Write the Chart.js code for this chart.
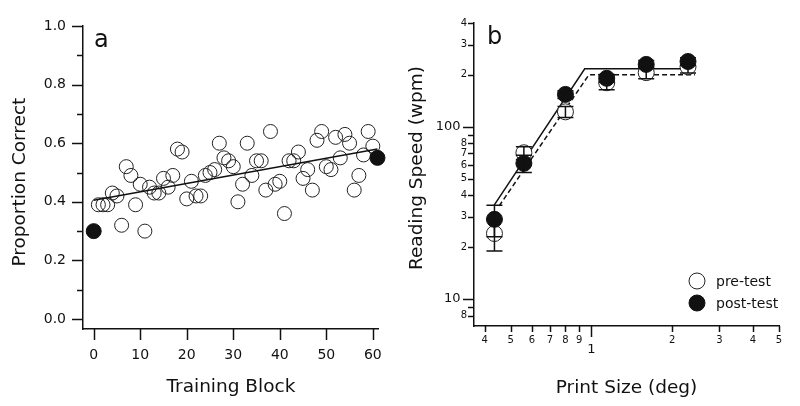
<!DOCTYPE html>
<html>
<head>
<meta charset="utf-8">
<script src="https://cdn.jsdelivr.net/npm/chart.js@4.4.0/dist/chart.umd.min.js"></script>
<style>
  html, body { margin: 0; padding: 0; background: #fff; }
  .wrap { display: flex; width: 800px; height: 406px; }
  .panel { width: 400px; height: 406px; }
  canvas { display: block; }
</style>
</head>
<body>
<div class="wrap">
  <div class="panel"><canvas id="chartA" width="400" height="406"></canvas></div>
  <div class="panel"><canvas id="chartB" width="400" height="406"></canvas></div>
</div>
<script>
// ============================================
//  two panels: training curve + reading speed
// ============================================

const FONT = "'DejaVu Sans', sans-serif";
const INK  = '#111';

// ── panel a data ─────────────────────────────
const blocks = [
   1,  2,  3,  4,  5,  6,  7,  8,  9, 10, 11, 12, 13, 14, 15, 16, 17, 18, 19, 20,
  21, 22, 23, 24, 25, 26, 27, 28, 29, 30, 31, 32, 33, 34, 35, 36, 37, 38, 39, 40,
  41, 42, 43, 44, 45, 46, 47, 48, 49, 50, 51, 52, 53, 54, 55, 56, 57, 58, 59, 60
];
const trainingScores = [
  0.39, 0.39, 0.39, 0.43, 0.42, 0.32, 0.52, 0.49, 0.39, 0.46,
  0.30, 0.45, 0.43, 0.43, 0.48, 0.45, 0.49, 0.58, 0.57, 0.41,
  0.47, 0.42, 0.42, 0.49, 0.50, 0.51, 0.60, 0.55, 0.54, 0.52,
  0.40, 0.46, 0.60, 0.49, 0.54, 0.54, 0.44, 0.64, 0.46, 0.47,
  0.36, 0.54, 0.54, 0.57, 0.48, 0.51, 0.44, 0.61, 0.64, 0.52,
  0.51, 0.62, 0.55, 0.63, 0.60, 0.44, 0.49, 0.56, 0.64, 0.59
];
const testBlocks = [0, 61];
const testScores = [0.30, 0.55];
const fitBlocks  = [0, 61];
const fitScores  = [0.405, 0.58];

const yTicksA  = [0, 0.1, 0.2, 0.3, 0.4, 0.5, 0.6, 0.7, 0.8, 0.9, 1.0];
const yLabelsA = ['0.0', '', '0.2', '', '0.4', '', '0.6', '', '0.8', '', '1.0'];
const xTicksA  = [0, 10, 20, 30, 40, 50, 60];
const xLabelsA = ['0', '10', '20', '30', '40', '50', '60'];

// ── panel b data ─────────────────────────────
const printSize = [0.435, 0.56, 0.80, 1.14, 1.60, 2.29];
const preSpeed  = [24, 70.6, 122, 180, 206, 223];
const preErr    = [5, 6, 9, 16, 16, 18];
const postSpeed = [29, 61.3, 154, 191, 230, 239];
const postErr   = [6, 7, 8, 10, 12, 12];

const preFitX  = [0.453, 0.978, 2.43];
const preFitY  = [34.7, 200, 200];
const postFitX = [0.434, 0.944, 2.43];
const postFitY = [35.1, 217, 217];

const yTicksB  = [8, 9, 10, 20, 30, 40, 50, 60, 70, 80, 90, 100, 200, 300, 400];
const yLabelsB = ['8', '', '10', '2', '3', '4', '5', '6', '7', '8', '', '100', '2', '3', '4'];
const yBigB    = [10, 100];
const xTicksB  = [0.4, 0.5, 0.6, 0.7, 0.8, 0.9, 1, 2, 3, 4, 5];
const xLabelsB = ['4', '5', '6', '7', '8', '9', '1', '2', '3', '4', '5'];
const xBigB    = [1];

// ── helpers ──────────────────────────────────
const pts = (xs, ys) => xs.map((x, i) => ({ x, y: ys[i] }));

function fixedTicks(values, isBig) {
  return scale => { scale.ticks = values.map((v, i) => ({ value: v, big: isBig(v, i) })); };
}

// tick marks of two lengths, drawn on the scales' own pixels
const tickMarks = {
  id: 'tickMarks',
  afterDraw(chart, args, opts) {
    const { ctx, chartArea } = chart;
    ctx.save();
    ctx.strokeStyle = INK;
    ctx.lineWidth = 1.5;
    for (const scale of Object.values(chart.scales)) {
      for (const t of scale.ticks) {
        const p = Math.round(scale.getPixelForValue(t.value)) + 0.5;
        const len = t.big ? opts.long : opts.short;
        ctx.beginPath();
        if (scale.isHorizontal()) {
          ctx.moveTo(p, chartArea.bottom);
          ctx.lineTo(p, chartArea.bottom + len);
        } else {
          ctx.moveTo(chartArea.left, p);
          ctx.lineTo(chartArea.left - len, p);
        }
        ctx.stroke();
      }
    }
    ctx.restore();
  }
};

const panelLetter = {
  id: 'panelLetter',
  afterDraw(chart, args, opts) {
    const { ctx } = chart;
    ctx.save();
    ctx.fillStyle = INK;
    ctx.font = `${opts.size}px ${FONT}`;
    ctx.textBaseline = 'alphabetic';
    ctx.fillText(opts.text, opts.x, opts.y);
    ctx.restore();
  }
};

const errorBars = {
  id: 'errorBars',
  afterDatasetDraw(chart, args) {
    const ds = chart.data.datasets[args.index];
    if (!ds.errors) return;
    const { ctx, scales: { x, y } } = chart;
    ctx.save();
    ctx.strokeStyle = INK;
    ctx.lineWidth = 1.5;
    ds.data.forEach((d, i) => {
      const px = x.getPixelForValue(d.x);
      const hi = y.getPixelForValue(d.y + ds.errors[i]);
      const lo = y.getPixelForValue(d.y - ds.errors[i]);
      ctx.beginPath();
      ctx.moveTo(px, hi);     ctx.lineTo(px, lo);
      ctx.moveTo(px - 8, hi); ctx.lineTo(px + 8, hi);
      ctx.moveTo(px - 8, lo); ctx.lineTo(px + 8, lo);
      ctx.stroke();
    });
    ctx.restore();
  }
};

// legend inside the plot, entries sorted by legendRank
const insetLegend = {
  id: 'insetLegend',
  afterDraw(chart, args, opts) {
    const { ctx } = chart;
    ctx.save();
    ctx.font = `${opts.size}px ${FONT}`;
    ctx.textBaseline = 'middle';
    chart.data.datasets
      .filter(ds => ds.legendRank !== undefined)
      .sort((a, b) => a.legendRank - b.legendRank)
      .forEach((ds, i) => {
        const cy = opts.y + i * opts.gap;
        ctx.beginPath();
        ctx.arc(opts.x, cy, ds.pointRadius, 0, Math.PI * 2);
        ctx.fillStyle = ds.pointBackgroundColor;
        ctx.fill();
        ctx.lineWidth = ds.pointBorderWidth;
        ctx.strokeStyle = ds.pointBorderColor;
        ctx.stroke();
        ctx.fillStyle = INK;
        ctx.fillText(ds.label, opts.x + 19, cy + 1);
      });
    ctx.restore();
  }
};

const baseOptions = {
  responsive: false,
  animation: false,
  events: [],
  plugins: { legend: { display: false }, tooltip: { enabled: false } }
};

// ── PANEL A ──────────────────────────────────
new Chart(document.getElementById('chartA'), {
  type: 'scatter',
  data: {
    datasets: [
      {
        label: 'test',
        data: pts(testBlocks, testScores),
        pointRadius: 7.5,
        pointBackgroundColor: INK,
        pointBorderColor: INK,
        pointBorderWidth: 1,
        clip: false
      },
      {
        label: 'fit',
        data: pts(fitBlocks, fitScores),
        showLine: true,
        borderColor: INK,
        borderWidth: 1.5,
        pointRadius: 0,
        clip: false
      },
      {
        label: 'training',
        data: pts(blocks, trainingScores),
        pointRadius: 7,
        pointBackgroundColor: 'rgba(0,0,0,0)',
        pointBorderColor: '#222',
        pointBorderWidth: 1,
        clip: false
      }
    ]
  },
  options: {
    ...baseOptions,
    layout: { padding: { top: 26, right: 13, left: 0, bottom: 0 }, autoPadding: false },
    plugins: {
      ...baseOptions.plugins,
      tickMarks: { long: 11, short: 6 },
      panelLetter: { text: 'a', x: 94, y: 47, size: 24 }
    },
    scales: {
      x: {
        type: 'linear',
        min: -2.3,
        max: 61.3,
        afterBuildTicks: fixedTicks(xTicksA, () => true),
        afterFit: s => { s.height = 77; },
        grid: { display: false, drawTicks: false },
        border: { display: true, color: INK, width: 1.5 },
        ticks: {
          color: INK,
          padding: 18,
          maxRotation: 0,
          autoSkip: false,
          font: { family: FONT, size: 14 },
          callback: (v, i) => xLabelsA[i]
        },
        title: {
          display: true,
          text: 'Training Block',
          color: INK,
          font: { family: FONT, size: 18.5 },
          padding: { top: 0, bottom: 8 }
        }
      },
      y: {
        type: 'linear',
        min: -0.034,
        max: 1.0,
        afterBuildTicks: fixedTicks(yTicksA, (v, i) => yLabelsA[i] !== ''),
        afterFit: s => { s.width = 83; },
        grid: { display: false, drawTicks: false },
        border: { display: true, color: INK, width: 1.5 },
        ticks: {
          color: INK,
          padding: 17,
          autoSkip: false,
          font: { family: FONT, size: 14 },
          callback: (v, i) => yLabelsA[i]
        },
        title: {
          display: true,
          // trailing en space nudges the rotated title a little lower
          text: 'Proportion Correct\u2002',
          color: INK,
          font: { family: FONT, size: 18.5 },
          padding: { top: 9, bottom: 0 }
        }
      }
    }
  },
  plugins: [tickMarks, panelLetter]
});

// ── PANEL B ──────────────────────────────────
new Chart(document.getElementById('chartB'), {
  type: 'scatter',
  data: {
    datasets: [
      {
        label: 'post-test',
        legendRank: 1,
        data: pts(printSize, postSpeed),
        errors: postErr,
        pointRadius: 8,
        pointBackgroundColor: INK,
        pointBorderColor: INK,
        pointBorderWidth: 1,
        clip: false
      },
      {
        label: 'pre-test',
        legendRank: 0,
        data: pts(printSize, preSpeed),
        errors: preErr,
        pointRadius: 8,
        pointBackgroundColor: '#fff',
        pointBorderColor: '#222',
        pointBorderWidth: 1,
        clip: false
      },
      {
        label: 'post fit',
        data: pts(postFitX, postFitY),
        showLine: true,
        borderColor: INK,
        borderWidth: 1.5,
        pointRadius: 0,
        clip: false
      },
      {
        label: 'pre fit',
        data: pts(preFitX, preFitY),
        showLine: true,
        borderColor: INK,
        borderWidth: 1.5,
        borderDash: [5, 3],
        pointRadius: 0,
        clip: false
      }
    ]
  },
  options: {
    ...baseOptions,
    layout: { padding: { top: 23, right: 21, left: 0, bottom: 0 }, autoPadding: false },
    plugins: {
      ...baseOptions.plugins,
      tickMarks: { long: 11, short: 6 },
      panelLetter: { text: 'b', x: 87, y: 44, size: 24 },
      insetLegend: { x: 297, y: 281, gap: 22, size: 14 }
    },
    scales: {
      x: {
        type: 'logarithmic',
        min: 0.365,
        max: 5.0,
        afterBuildTicks: fixedTicks(xTicksB, v => xBigB.includes(v)),
        afterFit: s => { s.height = 80; },
        grid: { display: false, drawTicks: false },
        border: { display: true, color: INK, width: 1.5 },
        ticks: {
          color: INK,
          padding: 8,
          maxRotation: 0,
          autoSkip: false,
          font: ctx => ctx.tick && ctx.tick.big
            ? { family: FONT, size: 13, lineHeight: 2.46 }
            : { family: FONT, size: 10 },
          callback: (v, i) => xLabelsB[i]
        },
        title: {
          display: true,
          text: 'Print Size (deg)',
          color: INK,
          font: { family: FONT, size: 18.5 },
          padding: { top: 0, bottom: 7 }
        }
      },
      y: {
        type: 'logarithmic',
        min: 6.97,
        max: 400,
        afterBuildTicks: fixedTicks(yTicksB, v => yBigB.includes(v)),
        afterFit: s => { s.width = 74; },
        grid: { display: false, drawTicks: false },
        border: { display: true, color: INK, width: 1.5 },
        ticks: {
          color: INK,
          padding: 7,
          autoSkip: false,
          font: ctx => ctx.tick && ctx.tick.big
            ? { family: FONT, size: 13 }
            : { family: FONT, size: 10 },
          callback: (v, i) => yBigB.includes(v) ? yLabelsB[i] + '\u2002' : yLabelsB[i]
        },
        title: {
          display: true,
          // leading spaces nudge the rotated title a little higher
          text: '\u2002\u2009Reading Speed (wpm)',
          color: INK,
          font: { family: FONT, size: 18.5 },
          padding: { top: 6, bottom: 0 }
        }
      }
    }
  },
  plugins: [tickMarks, panelLetter, errorBars, insetLegend]
});
</script>
</body>
</html>
